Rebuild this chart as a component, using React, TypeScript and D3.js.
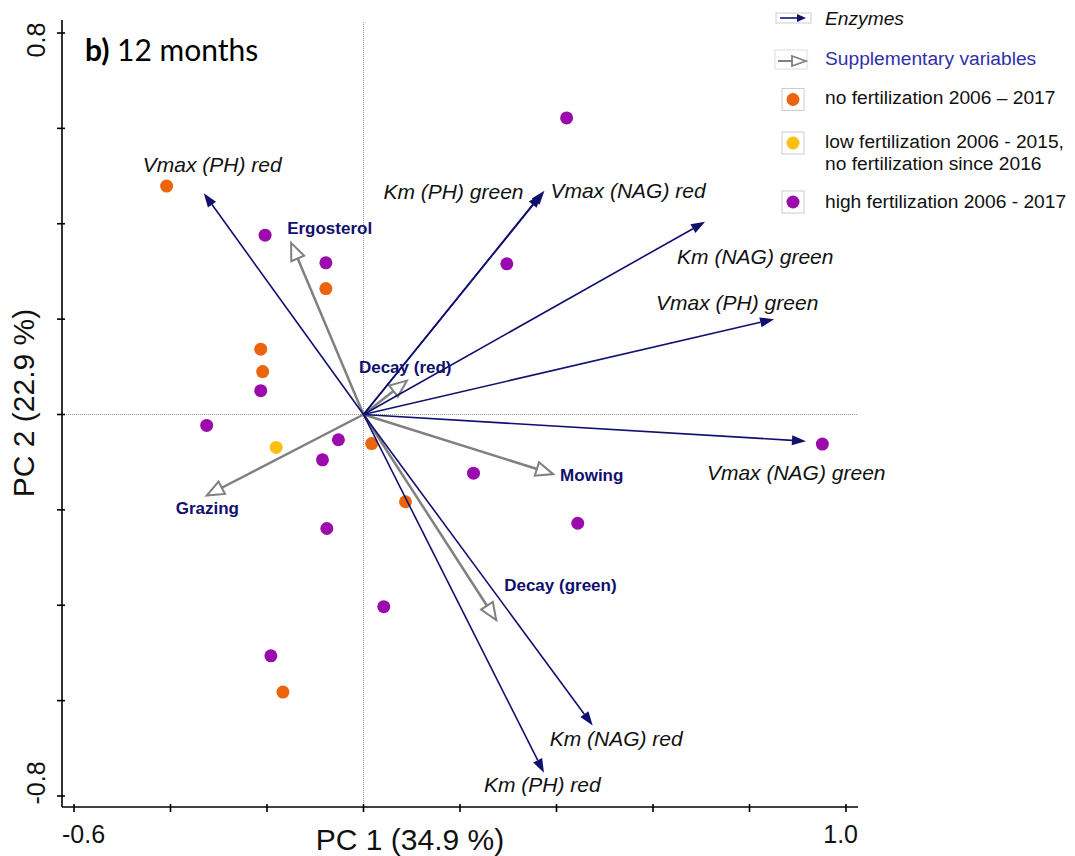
import React, { FC, useMemo } from "react";
import * as d3 from "d3";

// sample scores (PC1, PC2) by fertilization group
const noFertScores = [
  [-0.408, 0.479],
  [-0.078, 0.264],
  [-0.213, 0.137],
  [-0.209, 0.09],
  [0.017, -0.061],
  [0.087, -0.183],
  [-0.167, -0.582],
];
const lowFertScores = [[-0.181, -0.069]];
const highFertScores = [
  [0.421, 0.622],
  [-0.204, 0.376],
  [-0.078, 0.318],
  [0.297, 0.316],
  [-0.213, 0.05],
  [-0.325, -0.023],
  [-0.052, -0.053],
  [-0.085, -0.095],
  [0.228, -0.123],
  [0.951, -0.062],
  [0.444, -0.228],
  [-0.076, -0.239],
  [0.042, -0.403],
  [-0.192, -0.506],
];

// enzyme loadings
const enzymeNames = [
  "Vmax (PH) red",
  "Km (PH) green",
  "Vmax (NAG) red",
  "Km (NAG) green",
  "Vmax (PH) green",
  "Vmax (NAG) green",
  "Km (NAG) red",
  "Km (PH) red",
];
const enzymePc1 = [-0.331, 0.369, 0.375, 0.708, 0.851, 0.917, 0.475, 0.374];
const enzymePc2 = [0.464, 0.463, 0.469, 0.404, 0.2, -0.056, -0.652, -0.751];

// supplementary variables
const suppNames = ["Ergosterol", "Decay (red)", "Mowing", "Decay (green)", "Grazing"];
const suppPc1 = [-0.15, 0.09, 0.393, 0.275, -0.325];
const suppPc2 = [0.36, 0.071, -0.125, -0.431, -0.17];

const xTicks = [-0.6, -0.4, -0.2, 0, 0.2, 0.4, 0.6, 0.8, 1.0];
const yTicks = [-0.8, -0.6, -0.4, -0.2, 0, 0.2, 0.4, 0.6, 0.8];

const legendLabels = [
  "no fertilization 2006 – 2017",
  "low fertilization 2006 - 2015,",
  "high fertilization 2006 - 2017",
];

// label offsets from arrow tips, px (layout only)
const enzymeLabelPos: any = {
  "Vmax (PH) red": [-61, -21, "start"],
  "Km (PH) green": [-18, 5, "end"],
  "Vmax (NAG) red": [6, 7, "start"],
  "Km (NAG) green": [-28, 42, "start"],
  "Vmax (PH) green": [-118, -9, "start"],
  "Vmax (NAG) green": [-99, 39, "start"],
  "Km (NAG) red": [-43, 21, "start"],
  "Km (PH) red": [-60, 19, "start"],
};
const suppLabelPos: any = {
  Ergosterol: [-4, -9],
  "Decay (red)": [-48, -8],
  Mowing: [7, 7],
  "Decay (green)": [8, -29],
  Grazing: [-31, 18],
};

const navy = "#10106e";
const grey = "#808080";
const colors = { none: "#ea650c", low: "#fdbf12", high: "#9b0aad" };
const font = "'Liberation Sans', Arial, sans-serif";

const head = (x1: number, y1: number, x2: number, y2: number, len: number, half: number) => {
  const a = Math.atan2(y2 - y1, x2 - x1);
  const bx = x2 - len * Math.cos(a);
  const by = y2 - len * Math.sin(a);
  const pts = [
    [x2, y2],
    [bx + half * Math.sin(a), by - half * Math.cos(a)],
    [bx - half * Math.sin(a), by + half * Math.cos(a)],
  ];
  return { bx, by, pts: pts.map((p) => p.join(",")).join(" ") };
};

const Biplot: FC<any> = () => {
  const width = 1075;
  const height = 856;
  const axisX = 62;
  const axisY = 807;

  const x = useMemo(() => d3.scaleLinear([-0.6, 1.0], [74, 846]), []);
  const y = useMemo(() => d3.scaleLinear([-0.8, 0.8], [796, 33]), []);

  const ox = x(0);
  const oy = y(0);

  const points = [
    ...noFertScores.map((d) => ({ d, c: colors.none })),
    ...lowFertScores.map((d) => ({ d, c: colors.low })),
    ...highFertScores.map((d) => ({ d, c: colors.high })),
  ];

  return (
    <svg
      width={width}
      height={height}
      style={{ position: "absolute", top: 0, left: 0, background: "#fff" }}
      fontFamily={font}
    >
      {/* zero reference lines */}
      <line x1={ox} x2={ox} y1={22} y2={axisY} stroke="#999" strokeWidth={1} strokeDasharray="1,1" />
      <line x1={axisX} x2={858} y1={oy} y2={oy} stroke="#999" strokeWidth={1} strokeDasharray="1,1" />

      {/* axes */}
      <g stroke="#000" strokeWidth={1.6}>
        <line x1={axisX} x2={axisX} y1={20} y2={axisY} />
        <line x1={axisX} x2={858} y1={axisY} y2={axisY} />
        {yTicks.map((t) => (
          <line key={"y" + t} x1={axisX - 5} x2={axisX + 3} y1={y(t)} y2={y(t)} />
        ))}
        {xTicks.map((t) => (
          <line key={"x" + t} x1={x(t)} x2={x(t)} y1={axisY - 3} y2={axisY + 5} />
        ))}
      </g>
      <g fontSize={25} fill="#111">
        <text transform={`translate(45,${y(0.8) + 7}) rotate(-90)`} textAnchor="middle">0.8</text>
        <text transform={`translate(45,${y(-0.8) - 13}) rotate(-90)`} textAnchor="middle">-0.8</text>
        <text x={x(-0.6) - 12} y={843} textAnchor="start">-0.6</text>
        <text x={x(1.0) + 12} y={843} textAnchor="end">1.0</text>
      </g>
      <text x={410} y={850} fontSize={30} textAnchor="middle" fill="#111">PC 1 (34.9 %)</text>
      <text transform="translate(34,403) rotate(-90)" fontSize={30} textAnchor="middle" fill="#111">
        PC 2 (22.9 %)
      </text>

      {/* title */}
      <text x={85} y={61} fontSize={30} fontFamily="Lato, 'Open Sans', sans-serif" fill="#000">
        <tspan fontWeight="bold">b)</tspan> 12 months
      </text>

      {/* sample points */}
      <g>
        {points.map((p, i) => (
          <circle key={i} cx={x(p.d[0])} cy={y(p.d[1])} r={6.5} fill={p.c} />
        ))}
      </g>

      {/* supplementary arrows */}
      <g>
        {suppNames.map((n, i) => {
          const tx = x(suppPc1[i]);
          const ty = y(suppPc2[i]);
          const h = head(ox, oy, tx, ty, 17, 7);
          const [dx, dy] = suppLabelPos[n];
          return (
            <g key={n}>
              <line x1={ox} y1={oy} x2={h.bx} y2={h.by} stroke={grey} strokeWidth={2.5} />
              <polygon points={h.pts} fill="#fff" stroke={grey} strokeWidth={2} strokeLinejoin="miter" />
              <text x={tx + dx} y={ty + dy} fontSize={17} fontWeight="bold" fill={navy}>
                {n}
              </text>
            </g>
          );
        })}
      </g>

      {/* enzyme arrows */}
      <g>
        {enzymeNames.map((n, i) => {
          const tx = x(enzymePc1[i]);
          const ty = y(enzymePc2[i]);
          const h = head(ox, oy, tx, ty, 14, 5);
          const [dx, dy, anchor] = enzymeLabelPos[n];
          return (
            <g key={n}>
              <line x1={ox} y1={oy} x2={h.bx} y2={h.by} stroke={navy} strokeWidth={1.6} />
              <polygon points={h.pts} fill={navy} />
              <text x={tx + dx} y={ty + dy} fontSize={21} fontStyle="italic" textAnchor={anchor} fill="#111">
                {n}
              </text>
            </g>
          );
        })}
      </g>

      {/* legend */}
      <g fontSize={19.2} fill="#111">
        <rect x={776} y={13} width={35} height={10} fill="none" stroke="#ccc" strokeWidth={1} />
        {(() => {
          const h = head(780, 18, 806, 18, 9, 4);
          return (
            <g>
              <line x1={780} y1={18} x2={h.bx} y2={h.by} stroke={navy} strokeWidth={1.6} />
              <polygon points={h.pts} fill={navy} />
            </g>
          );
        })()}
        <text x={825} y={25} fontStyle="italic">Enzymes</text>

        <rect x={775} y={50} width={32} height={19} fill="none" stroke="#ddd" strokeWidth={1} />
        {(() => {
          const h = head(778, 61, 806, 61, 14, 5);
          return (
            <g>
              <line x1={778} y1={61} x2={h.bx} y2={h.by} stroke={grey} strokeWidth={2} />
              <polygon points={h.pts} fill="#fff" stroke={grey} strokeWidth={1.8} />
            </g>
          );
        })()}
        <text x={825} y={65} fill="#3030a8">Supplementary variables</text>

        {[colors.none, colors.low, colors.high].map((c, i) => {
          const cy = [99.5, 143, 202][i];
          return (
            <g key={c}>
              <rect x={782} y={cy - 11} width={22} height={22} fill="#fff" stroke="#ccc" strokeWidth={1} />
              <circle cx={793} cy={cy} r={6.5} fill={c} />
              <text x={825} y={[104, 148, 208][i]}>{legendLabels[i]}</text>
            </g>
          );
        })}
        <text x={825} y={170}>no fertilization since 2016</text>
      </g>
    </svg>
  );
};

export default function App() {
  return <Biplot />;
}
